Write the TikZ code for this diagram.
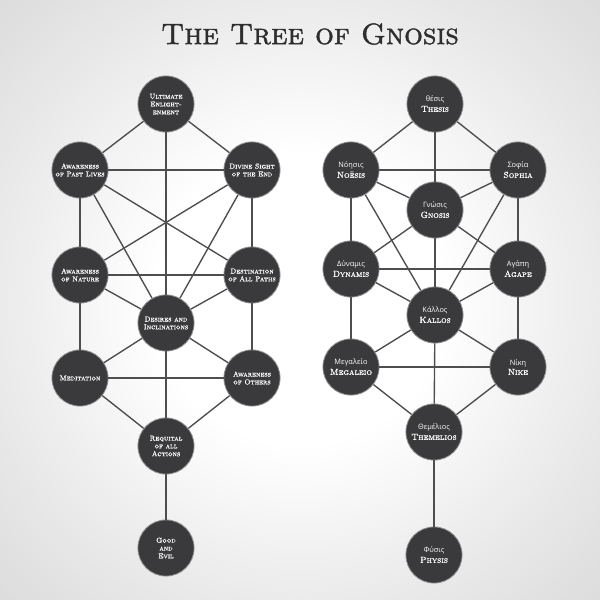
\documentclass[tikz,border=0pt]{standalone}
\usepackage{fontspec}
\newfontfamily\grk{Open Sans}
\newfontfamily\capsrm{lmromancaps10-regular.otf}[FakeBold=1.0]
\newfontfamily\headrm{lmromancaps10-regular.otf}[FakeBold=1.4]
\definecolor{disc}{HTML}{3A3A3C}
\definecolor{path}{HTML}{4E4E4E}
\definecolor{ink}{HTML}{2E2E2E}
\pgfdeclareradialshading{vignette}{\pgfpoint{0bp}{0bp}}{color(0bp)=(white); color(12bp)=(white); color(25bp)=(black!8); color(36bp)=(black!14); color(50bp)=(black!14)}

\begin{document}
\begin{tikzpicture}[x=0.3333mm, y=-0.3333mm,
  snode/.style={circle, draw=black!45, line width=0.8pt, fill=disc,
                minimum size=18.7mm, inner sep=0pt, align=center,
                text=white, font=\capsrm\fontsize{6.8}{7.4}\selectfont},
  gnode/.style={snode, font=\capsrm\fontsize{8.3}{9.4}\selectfont},
  lnk/.style={draw=path, line width=1.3pt}
]
\shade[shading=vignette] (0,0) rectangle (600,600);
\useasboundingbox (0,0) rectangle (600,600);

\node[text=ink, font=\headrm\fontsize{28}{28}\selectfont] (title) at (310,34) {The Tree of Gnosis};

% left tree
\node[snode] (l0) at (166,104) {Ultimate\\Enlight-\\enment};
\node[snode] (l1) at (80,170)  {Awareness\\of Past Lives};
\node[snode] (l2) at (252,170) {Divine Sight\\of the End};
\node[snode] (l3) at (80,275)  {Awareness\\of Nature};
\node[snode] (l4) at (252,275) {Destination\\of All Paths};
\node[snode] (l5) at (166,323) {Desires and\\Inclinations};
\node[snode] (l6) at (80,378)  {Meditation};
\node[snode] (l7) at (252,378) {Awareness\\of Others};
\node[snode] (l8) at (166,446) {Requital\\of all\\Actions};
\node[snode] (l9) at (166,548) {Good\\and\\Evil};
\draw[lnk] (l0)--(l1); \draw[lnk] (l0)--(l2); \draw[lnk] (l0)--(l5);
\draw[lnk] (l1)--(l2); \draw[lnk] (l1)--(l3); \draw[lnk] (l2)--(l4);
\draw[lnk] (l1)--(l4); \draw[lnk] (l2)--(l3);
\draw[lnk] (l1)--(l5); \draw[lnk] (l2)--(l5);
\draw[lnk] (l3)--(l4); \draw[lnk] (l3)--(l5); \draw[lnk] (l4)--(l5);
\draw[lnk] (l3)--(l6); \draw[lnk] (l4)--(l7);
\draw[lnk] (l5)--(l6); \draw[lnk] (l5)--(l7); \draw[lnk] (l6)--(l7);
\draw[lnk] (l6)--(l8); \draw[lnk] (l7)--(l8);
\draw[lnk] (l5)--(l8); \draw[lnk] (l8)--(l9);

% right tree
\node[gnode] (r0)  at (435,104) {{\grk\fontsize{7}{7}\selectfont θέσις}\\Thesis};
\node[gnode] (r1)  at (351,170) {{\grk\fontsize{7}{7}\selectfont Νόησις}\\Noēsis};
\node[gnode] (r2)  at (518,170) {{\grk\fontsize{7}{7}\selectfont Σοφία}\\Sophia};
\node[gnode] (r3)  at (435,210) {{\grk\fontsize{7}{7}\selectfont Γνώσις}\\Gnosis};
\node[gnode] (r4)  at (351,269) {{\grk\fontsize{7}{7}\selectfont Δύναμις}\\Dynamis};
\node[gnode] (r5)  at (518,269) {{\grk\fontsize{7}{7}\selectfont Αγάπη}\\Agape};
\node[gnode] (r6)  at (435,315) {{\grk\fontsize{7}{7}\selectfont Κάλλος}\\Kallos};
\node[gnode] (r7)  at (351,367) {{\grk\fontsize{7}{7}\selectfont Μεγαλείο}\\Megaleio};
\node[gnode] (r8)  at (518,367) {{\grk\fontsize{7}{7}\selectfont Νίκη}\\Nike};
\node[gnode] (r9)  at (434,432) {{\grk\fontsize{7}{7}\selectfont Θεμέλιος}\\Themelios};
\node[gnode] (r10) at (434,555) {{\grk\fontsize{7}{7}\selectfont Φύσις}\\Physis};
\draw[lnk] (r0)--(r1); \draw[lnk] (r0)--(r2); \draw[lnk] (r0)--(r3);
\draw[lnk] (r1)--(r2); \draw[lnk] (r1)--(r3); \draw[lnk] (r2)--(r3);
\draw[lnk] (r1)--(r4); \draw[lnk] (r2)--(r5);
\draw[lnk] (r1)--(r6); \draw[lnk] (r2)--(r6);
\draw[lnk] (r3)--(r4); \draw[lnk] (r3)--(r5); \draw[lnk] (r3)--(r6);
\draw[lnk] (r4)--(r5); \draw[lnk] (r4)--(r6); \draw[lnk] (r5)--(r6);
\draw[lnk] (r4)--(r7); \draw[lnk] (r5)--(r8);
\draw[lnk] (r6)--(r7); \draw[lnk] (r6)--(r8); \draw[lnk] (r7)--(r8);
\draw[lnk] (r7)--(r9); \draw[lnk] (r8)--(r9);
\draw[lnk] (r6)--(r9); \draw[lnk] (r9)--(r10);
\end{tikzpicture}
\end{document}
